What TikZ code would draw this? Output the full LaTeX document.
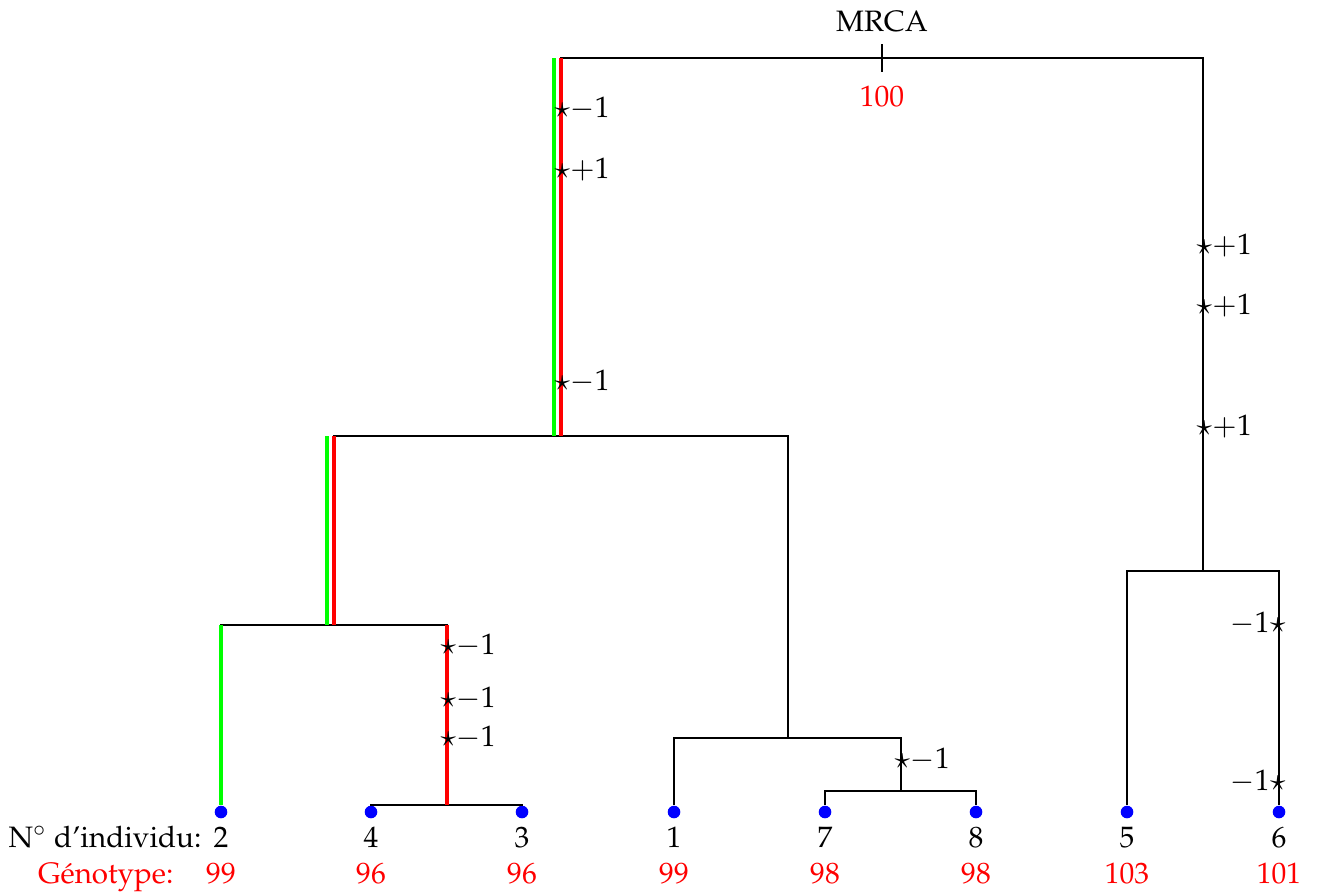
\documentclass[tikz,border=0pt]{standalone}
\usepackage[T1]{fontenc}
\usepackage{mathpazo}
\usetikzlibrary{positioning, calc}

\begin{document}
\begin{tikzpicture}[x=0.0119cm, y=-0.0119cm,
    branch/.style={draw=black, line width=0.4pt},
    gpath/.style={draw=green, line width=1.4pt},
    rpath/.style={draw=red, line width=1.4pt},
    leaf/.style={circle, fill=blue, inner sep=0pt, minimum size=0.15cm},
    mutr/.style={anchor=base west, inner sep=0pt, xshift=-2.5pt, yshift=-2.5pt},
    mutl/.style={anchor=base east, inner sep=0pt, xshift=2.5pt, yshift=-2.5pt}]
  \useasboundingbox (0,0) rectangle (1317,892);
  % internal nodes
  \coordinate (root) at (882,58);
  \coordinate (nA) at (561,436);
  \coordinate (nB) at (334,625);
  \coordinate (nC) at (447,805);
  \coordinate (nD) at (788,738);
  \coordinate (nE) at (901,791);
  \coordinate (nF) at (1203,571);
  % leaves
  \foreach \x/\id/\g in {221/2/99, 371/4/96, 522/3/96, 674/1/99, 825/7/98, 976/8/98, 1127/5/103, 1279/6/101} {
    \node[leaf] (l\id) at (\x,812) {};
    \node[anchor=base] (i\id) at (\x,847) {\id};
    \node[anchor=base, text=red] (g\id) at (\x,883) {\g};
  }
  \node[anchor=base east, inner sep=0pt] (indiv) at (202,847) {N$^\circ$ d'individu:};
  \node[anchor=base east, inner sep=0pt, text=red] (geno) at (174,883) {G\'enotype:};
  % tree
  \draw[branch] (nA) |- (root) -| (nF);
  \draw[branch] (nB) |- (nA) -| (nD);
  \draw[branch] (l2) |- (nB) -| (nC);
  \draw[branch] (l4) |- (nC) -| (l3);
  \draw[branch] (l1) |- (nD) -| (nE);
  \draw[branch] (l7) |- (nE) -| (l8);
  \draw[branch] (l5) |- (nF) -| (l6);
  \draw[branch] ($(root)+(0,-14)$) -- ($(root)+(0,14)$);
  \node[anchor=base] (mrca) at (882,31) {MRCA};
  \node[anchor=base, text=red] (anc) at (882,106) {100};
  % lineages
  \draw[gpath] ($(nA |- root)+(-7,0)$) -- ($(nA)+(-7,0)$);
  \draw[gpath] ($(nB |- nA)+(-7,0)$) -- ($(nB)+(-7,0)$);
  \draw[gpath] (l2) -- (l2 |- nB);
  \draw[rpath] (nA |- root) -- (nA);
  \draw[rpath] (nB |- nA) -- (nB);
  \draw[rpath] (nC |- nB) -- (nC);
  % mutations
  \node[mutr] (m1) at (561,110) {$\star{-1}$};
  \node[mutr] (m2) at (561,171) {$\star{+1}$};
  \node[mutr] (m3) at (561,383) {$\star{-1}$};
  \node[mutr] (m4) at (447,647) {$\star{-1}$};
  \node[mutr] (m5) at (447,700) {$\star{-1}$};
  \node[mutr] (m6) at (447,739) {$\star{-1}$};
  \node[mutr] (m7) at (901,761) {$\star{-1}$};
  \node[mutr] (m8) at (1203,247) {$\star{+1}$};
  \node[mutr] (m9) at (1203,307) {$\star{+1}$};
  \node[mutr] (m10) at (1203,428) {$\star{+1}$};
  \node[mutl] (m11) at (1279,625) {${-1}\star$};
  \node[mutl] (m12) at (1279,783) {${-1}\star$};
\end{tikzpicture}
\end{document}
